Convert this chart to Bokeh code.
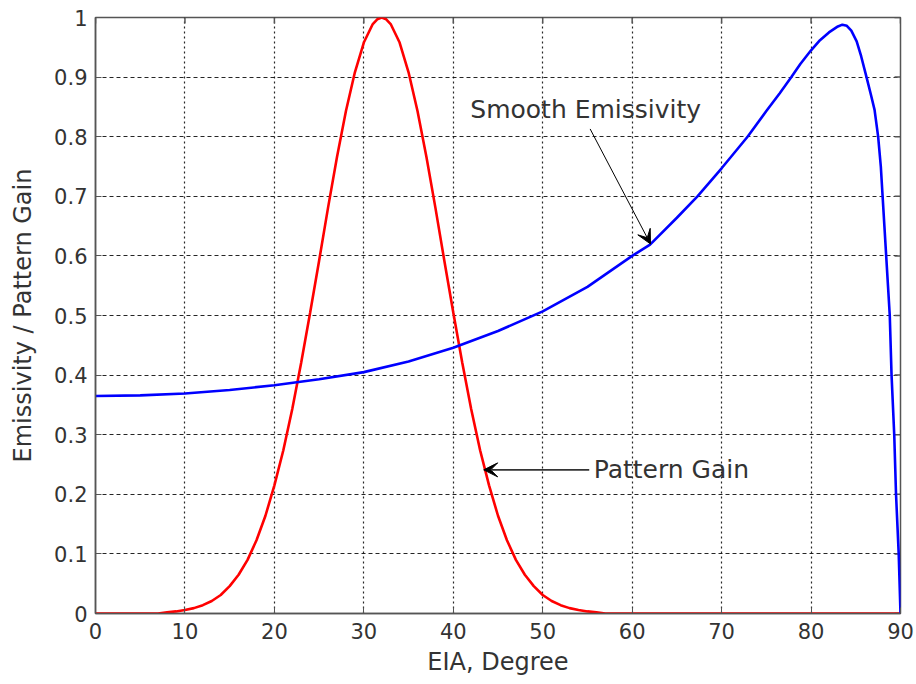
import math
from bokeh.plotting import figure
from bokeh.models import Range1d, FixedTicker, Arrow, VeeHead, Label
from bokeh.embed import file_html
from bokeh.resources import INLINE

# ---------------- data ----------------
gain_eia = [0, 7, 8, 9, 10, 11, 12, 13, 14, 15, 16, 17, 18, 19, 20, 21, 22, 23, 24,
            25, 26, 27, 28, 29, 30, 31, 31.5, 32, 32.5, 33, 34, 35, 36, 37, 38, 39, 40, 41,
            42, 43, 44, 45, 46, 47, 48, 49, 50, 51, 52, 53, 54, 55, 56, 57, 90]
pattern_gain = [0, 0, 0.002, 0.0035, 0.006, 0.009, 0.014, 0.021, 0.031, 0.046, 0.065,
                0.090, 0.123, 0.164, 0.215, 0.274, 0.343, 0.421, 0.505, 0.592, 0.681,
                0.766, 0.843, 0.908, 0.958, 0.989, 0.997, 1.0, 0.997, 0.989, 0.958, 0.908,
                0.843, 0.766, 0.681, 0.592, 0.505, 0.421, 0.343, 0.274, 0.215, 0.164,
                0.123, 0.090, 0.065, 0.046, 0.031, 0.021, 0.014, 0.009, 0.006, 0.0035,
                0.002, 0, 0]

emis_eia = [0, 5, 10, 15, 20, 25, 30, 35, 40, 45, 50, 55, 60, 62, 65, 67.3, 70,
            72.9, 75, 76.5, 77.8, 78.8, 80, 81, 82, 83, 83.5, 84, 84.5, 85.1, 85.6,
            86.2, 86.7, 87.1, 87.5, 87.8, 88.0, 88.2, 88.4, 88.6, 88.8, 89.0, 89.3,
            89.5, 89.8, 90]
smooth_emissivity = [0.365, 0.366, 0.369, 0.375, 0.383, 0.393, 0.405, 0.423, 0.446,
                     0.474, 0.507, 0.548, 0.600, 0.619, 0.664, 0.700, 0.747, 0.800,
                     0.843, 0.873, 0.900, 0.922, 0.945, 0.962, 0.975, 0.985, 0.988,
                     0.986, 0.978, 0.960, 0.935, 0.900, 0.870, 0.845, 0.800, 0.750,
                     0.700, 0.650, 0.600, 0.550, 0.500, 0.400, 0.300, 0.200, 0.100, 0.0]

x_ticks = [0, 10, 20, 30, 40, 50, 60, 70, 80, 90]
y_ticks = [0, 0.1, 0.2, 0.3, 0.4, 0.5, 0.6, 0.7, 0.8, 0.9, 1]
y_tick_labels = ["0", "0.1", "0.2", "0.3", "0.4", "0.5", "0.6", "0.7", "0.8", "0.9", "1"]

x_label = "EIA, Degree"
y_label = "Emissivity / Pattern Gain"
emis_note = "Smooth Emissivity"
gain_note = "Pattern Gain"

# ---------------- figure ----------------
FONT = "DejaVu Sans"
TXT = "#333333"
AX = "#555555"
X0, X1, Y0, Y1 = 0, 90, 0, 1

p = figure(width=916, height=684, output_backend="svg", toolbar_location=None,
           x_range=Range1d(X0, X1), y_range=Range1d(Y0, Y1),
           min_border_left=95, min_border_right=16, min_border_top=17,
           min_border_bottom=71, background_fill_color="white",
           border_fill_color="white")

p.outline_line_color = AX
p.outline_line_width = 1.5

for ax in (p.xaxis[0], p.yaxis[0]):
    ax.major_tick_in = 6
    ax.major_tick_out = 0
    ax.minor_tick_line_color = None
    ax.axis_line_color = AX
    ax.axis_line_width = 1.5
    ax.major_tick_line_color = AX
    ax.major_label_text_font = FONT
    ax.major_label_text_font_size = "21px"
    ax.major_label_text_color = TXT
    ax.axis_label_text_font = FONT
    ax.axis_label_text_font_size = "24px"
    ax.axis_label_text_font_style = "normal"
    ax.axis_label_text_color = TXT

p.xaxis.ticker = FixedTicker(ticks=x_ticks)
p.yaxis.ticker = FixedTicker(ticks=y_ticks)
p.yaxis.major_label_overrides = {t: s for t, s in zip(y_ticks, y_tick_labels)}
p.xaxis.axis_label = x_label
p.yaxis.axis_label = y_label
p.xaxis.major_label_standoff = 9
p.yaxis.major_label_standoff = 8
p.xaxis.axis_label_standoff = 6
p.yaxis.axis_label_standoff = 14

p.xgrid.grid_line_color = "black"
p.xgrid.grid_line_dash = "2 3"
p.xgrid.grid_line_width = 1.2
p.ygrid.grid_line_color = "black"
p.ygrid.grid_line_dash = "4 3"
p.ygrid.grid_line_width = 1
p.xgrid.grid_line_alpha = 0.85
p.ygrid.grid_line_alpha = 0.85

# inward tick marks on the top and right edges (screen-length rays at tick positions)
p.ray(x=x_ticks, y=[Y1] * len(x_ticks), length=6, length_units="screen",
      angle=-math.pi / 2, line_color=AX, line_width=1.5)
p.ray(x=[X1] * len(y_ticks), y=y_ticks, length=6, length_units="screen",
      angle=math.pi, line_color=AX, line_width=1.5)

p.line(gain_eia, pattern_gain, line_color="#ff0000", line_width=2.6)
p.line(emis_eia, smooth_emissivity, line_color="#0000ff", line_width=2.6)

# annotations
p.add_layout(Arrow(end=VeeHead(size=14, fill_color="black", line_color="black"),
                   x_start=55.3, y_start=0.813, x_end=62.05, y_end=0.62,
                   line_color="black", line_width=1))
p.add_layout(Arrow(end=VeeHead(size=14, fill_color="black", line_color="black"),
                   x_start=55.2, y_start=0.241, x_end=43.4, y_end=0.241,
                   line_color="#333333", line_width=1.6))
p.add_layout(Label(x=41.9, y=0.846, text=emis_note, text_baseline="middle",
                   text_font=FONT, text_font_size="25px", text_color=TXT))
p.add_layout(Label(x=55.7, y=0.241, text=gain_note, text_baseline="middle",
                   text_font=FONT, text_font_size="25px", text_color=TXT))

open("out.html", "w").write(file_html(p, INLINE))
